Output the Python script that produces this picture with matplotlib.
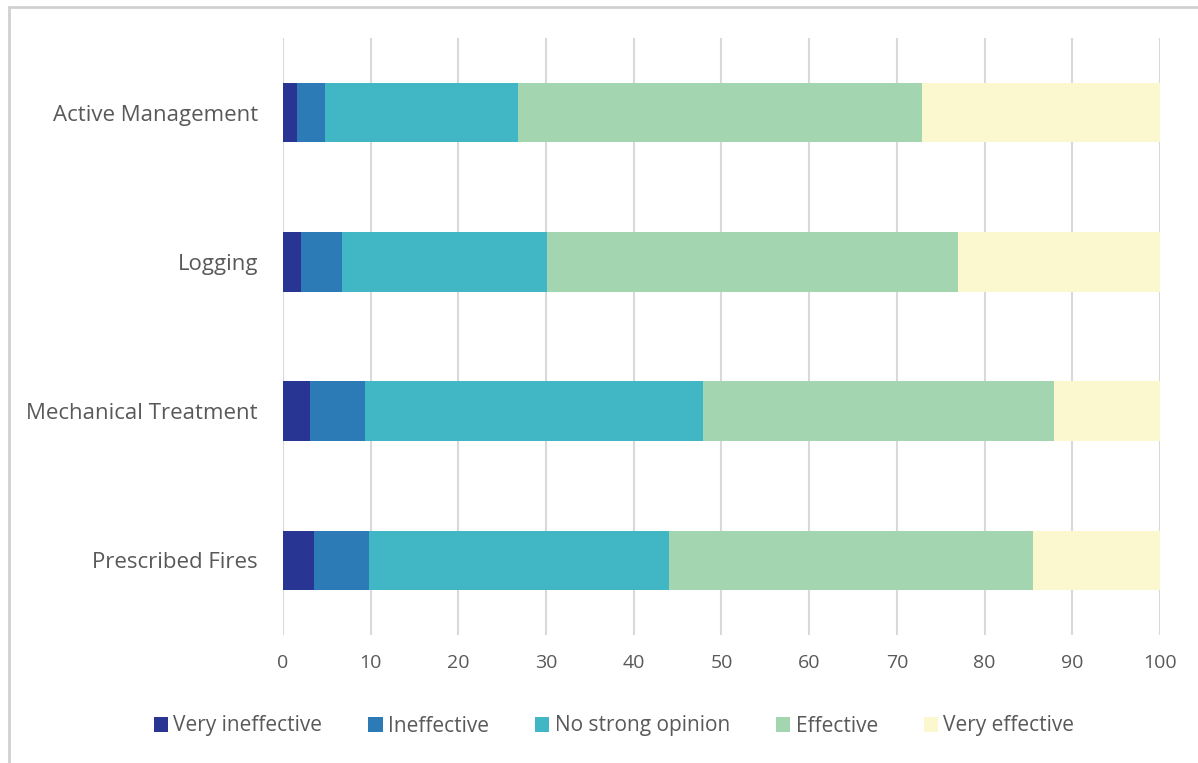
import matplotlib
matplotlib.use("Agg")
import matplotlib.pyplot as plt
import numpy as np
from matplotlib.patches import Rectangle

# Survey: perceived effectiveness of forest treatments (% of respondents)
treatments = ["Active Management", "Logging", "Mechanical Treatment", "Prescribed Fires"]
responses = ["Very ineffective", "Ineffective", "No strong opinion", "Effective", "Very effective"]
very_ineffective = [1.6, 2.1, 3.1, 3.5]
ineffective = [3.2, 4.6, 6.2, 6.3]
no_opinion = [22.0, 23.4, 38.6, 34.2]
effective = [46.1, 46.9, 40.0, 41.5]
very_effective = [27.1, 23.0, 12.1, 14.5]

colors = ["#283593", "#2c7bb6", "#41b6c4", "#a3d5b0", "#fbf7cf"]
text_color = "#595959"

plt.rcParams["font.family"] = ["Open Sans", "DejaVu Sans"]

fig = plt.figure(figsize=(11.98, 7.63), dpi=100)
ax = fig.add_axes([283 / 1198, 1 - 635 / 763, (1160 - 283) / 1198, (635 - 38) / 763])

series = [very_ineffective, ineffective, no_opinion, effective, very_effective]
y = np.arange(len(treatments))
left = np.zeros(len(treatments))
for vals, label, c in zip(series, responses, colors):
    ax.barh(y, vals, left=left, height=0.4, color=c, label=label, zorder=2)
    left += np.array(vals)

ax.set_xlim(0, 100)
ax.set_ylim(len(treatments) - 0.5, -0.5)
ax.set_xticks(np.arange(0, 101, 10))
ax.set_yticks(y)
ax.set_yticklabels(treatments)
ax.grid(axis="x", color="#d9d9d9", linewidth=1.5, zorder=0)
for s in ax.spines.values():
    s.set_visible(False)
ax.tick_params(axis="x", length=0, pad=14, labelsize=14, labelcolor=text_color)
ax.tick_params(axis="y", length=0, pad=18, labelsize=16, labelcolor=text_color)

ax.legend(loc="center", bbox_to_anchor=(614 / 1198, 1 - 726 / 763), bbox_transform=fig.transFigure,
          ncol=5, frameon=False, fontsize=15, labelcolor=text_color, handlelength=0.7,
          handleheight=0.7, handletextpad=0.25, columnspacing=2.2)

# outer chart border
fig.patches.append(Rectangle((9 / 1198, -0.05), 1.2, 1 - 7 / 763 + 0.05, transform=fig.transFigure,
                             fill=False, edgecolor="#d0d0d0", linewidth=2))

fig.savefig("out.png", dpi=100)
